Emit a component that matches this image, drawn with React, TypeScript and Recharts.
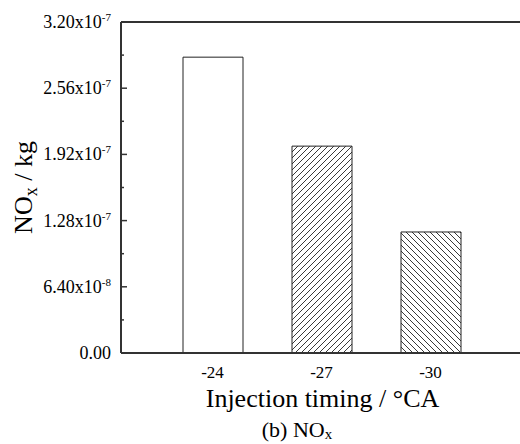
import React from "react";
import { BarChart, Bar, XAxis, YAxis, Cell, ReferenceLine, Label } from "recharts";

const TIMINGS = ["-24", "-27", "-30"];
const NOX = [2.86e-7, 2.0e-7, 1.17e-7];
const FILLS = ["#ffffff", "url(#hatchFwd)", "url(#hatchBack)"];

const Y_TICKS = [0, 3.2e-8, 6.4e-8, 9.6e-8, 1.28e-7, 1.6e-7, 1.92e-7, 2.24e-7, 2.56e-7, 2.88e-7, 3.2e-7];
// [mantissa, exponent]; empty = minor tick
const Y_LABELS: [string, string][] = [
  ["0.00", ""],
  ["", ""],
  ["6.40x10", "-8"],
  ["", ""],
  ["1.28x10", "-7"],
  ["", ""],
  ["1.92x10", "-7"],
  ["", ""],
  ["2.56x10", "-7"],
  ["", ""],
  ["3.20x10", "-7"],
];

const data = TIMINGS.map((t, i) => ({ timing: t, nox: NOX[i] }));

const SERIF = "'Liberation Serif', 'Times New Roman', serif";
const AXIS = "#333";

// eslint-disable-next-line @typescript-eslint/no-explicit-any
function YTick({ x, y, index }: any) {
  const axisX = x + 10;
  const [mant, exp] = Y_LABELS[index] ?? ["", ""];
  const major = mant !== "";
  return (
    <g>
      <line x1={axisX} x2={axisX + (major ? 6 : 3)} y1={y} y2={y} stroke={AXIS} strokeWidth={1.5} />
      {major && (
        <text x={x} y={y + 6} textAnchor="end" fontFamily={SERIF} fontSize={18} fill="#000">
          {mant}
          {exp && (
            <tspan dy={-7} fontSize={11}>
              {exp}
            </tspan>
          )}
        </text>
      )}
    </g>
  );
}

// eslint-disable-next-line @typescript-eslint/no-explicit-any
function XTitle({ viewBox }: any) {
  const { x, y, width } = viewBox;
  return (
    <g fontFamily={SERIF} fill="#000">
      <text x={x + width / 2 + 2} y={y + 54} textAnchor="middle" fontSize={26}>
        Injection timing / °CA
      </text>
      <text x={x + 176} y={y + 84} textAnchor="middle" fontSize={22}>
        (b) NO
        <tspan dy={2} fontSize={15}>
          x
        </tspan>
      </text>
    </g>
  );
}

// eslint-disable-next-line @typescript-eslint/no-explicit-any
function YTitle({ viewBox }: any) {
  const { y, height } = viewBox;
  const cx = 32;
  const cy = y + height / 2;
  return (
    <text
      x={cx}
      y={cy}
      textAnchor="middle"
      transform={`rotate(-90, ${cx}, ${cy})`}
      fontFamily={SERIF}
      fontSize={26}
      fill="#000"
    >
      NO
      <tspan dy={5} fontSize={18}>
        x
      </tspan>
      <tspan dy={-5}> / kg</tspan>
    </text>
  );
}

export default function App() {
  return (
    <div style={{ position: "absolute", left: 0, top: 0, background: "#fff" }}>
      <BarChart width={520} height={444} data={data} margin={{ top: 22, right: 0, bottom: 0, left: 0 }}>
        <defs>
          <pattern id="hatchFwd" patternUnits="userSpaceOnUse" width={6} height={6}>
            <rect width={6} height={6} fill="#fff" />
            <path d="M-1,1 l2,-2 M0,6 l6,-6 M5,7 l2,-2" stroke="#222" strokeWidth={0.9} />
          </pattern>
          <pattern id="hatchBack" patternUnits="userSpaceOnUse" width={6} height={6}>
            <rect width={6} height={6} fill="#fff" />
            <path d="M-1,5 l2,2 M0,0 l6,6 M5,-1 l2,2" stroke="#222" strokeWidth={0.9} />
          </pattern>
        </defs>
        <XAxis
          dataKey="timing"
          height={91}
          padding={{ left: 37, right: 35 }}
          axisLine={{ stroke: AXIS, strokeWidth: 2 }}
          tickLine={false}
          tickSize={0}
          tickMargin={13}
          tick={{ fill: "#000", fontSize: 17, fontFamily: SERIF }}
        >
          <Label content={<XTitle />} />
        </XAxis>
        <YAxis
          width={121}
          domain={[0, 3.2e-7]}
          ticks={Y_TICKS}
          interval={0}
          axisLine={{ stroke: AXIS, strokeWidth: 2 }}
          tickLine={false}
          tickSize={0}
          tickMargin={10}
          tick={<YTick />}
        >
          <Label content={<YTitle />} />
        </YAxis>
        <ReferenceLine y={3.2e-7} stroke={AXIS} strokeWidth={2} />
        <Bar dataKey="nox" barSize={60} stroke="#222" strokeWidth={1} isAnimationActive={false}>
          {data.map((d, i) => (
            <Cell key={d.timing} fill={FILLS[i]} />
          ))}
        </Bar>
      </BarChart>
    </div>
  );
}
